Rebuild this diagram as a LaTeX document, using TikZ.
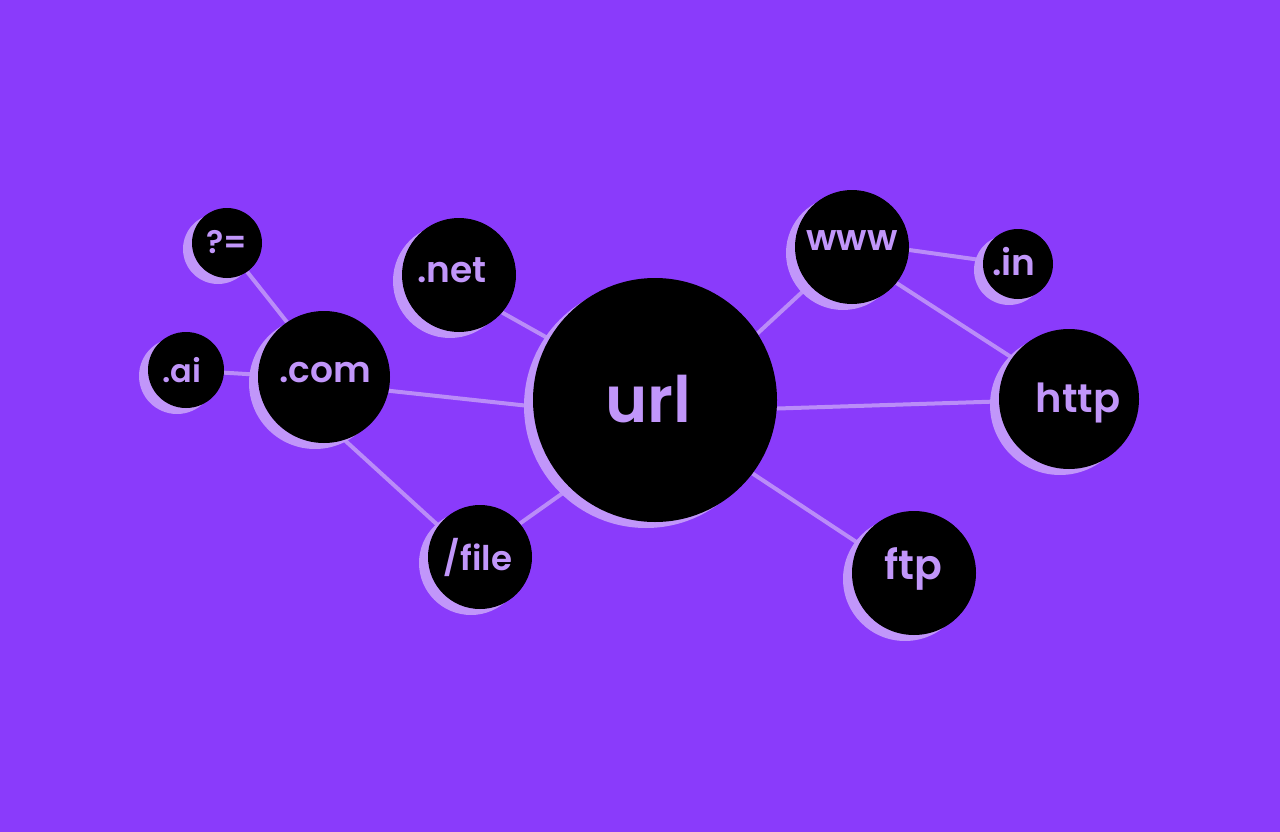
\documentclass[tikz,border=0pt]{standalone}
\usepackage{fontspec}
\setmainfont{Poppins}
\newfontfamily\popsemi{Poppins SemiBold}
\usetikzlibrary{shadows}
\definecolor{bgpurple}{HTML}{8A3BFB}
\definecolor{lilac}{HTML}{C196FA}
\definecolor{linklilac}{HTML}{BA8CF8}
\pgfdeclarelayer{back}
\pgfdeclarelayer{links}
\pgfsetlayers{back,links,main}
\tikzset{
  bubble/.style={circle, fill=black, inner sep=0pt, minimum size=#1,
    drop shadow={shadow xshift=-9pt, shadow yshift=-6pt, shadow scale=1, fill=lilac, opacity=1}},
  tag/.style={anchor=base, text=lilac, inner sep=0pt},
  link/.style={draw=linklilac, line width=4pt}
}
\begin{document}
\begin{tikzpicture}[x=1pt,y=-1pt]
\begin{pgfonlayer}{back}
\fill[bgpurple] (0,0) rectangle (1280,832);
\end{pgfonlayer}
\useasboundingbox (0,0) rectangle (1280,832);

% bubbles: name/x/y/diameter/text/size/dx/dy
\foreach \n/\x/\y/\d/\t/\s/\dx/\dy in {
  url/655/400/244/url/64/-7/22,
  com/324/377/132/.com/36/1/5,
  query/227/243/70/?=/32/0/10,
  ai/186/370/76/.ai/32/-4/12,
  net/459/275/114/.net/36/-7/7,
  file/480/557/104/{/file}/34/-2/13,
  www/852/247/114/www/36/0/3,
  dotin/1018/264/70/.in/36/-4/11,
  http/1069/399/140/http/40/9/13,
  ftp/914/573/124/ftp/41/-1/6}
{
  \node[bubble=\d pt] (\n) at (\x,\y) {};
  \node[tag, font=\fontsize{\s}{\s}\selectfont\popsemi] (\n-t) at ([xshift=\dx pt, yshift=-\dy pt]\n.center) {\t};
}

\begin{pgfonlayer}{links}
\draw[link] (query.-55) -- (com.124);
\draw[link] (ai.-4) -- (com.178);
\draw[link] (com.-12) -- (url.183);
\draw[link] (com.-72) -- (file.143);
\draw[link] (net.-41) -- (url.150);
\draw[link] (file.40) -- (url.226);
\draw[link] (url.33) -- (www.222);
\draw[link] (url.-4) -- (http.182);
\draw[link] (url.-37) -- (ftp.152);
\draw[link] (www.-3) -- (dotin.174);
\draw[link] (www.-39) -- (http.144);
\end{pgfonlayer}
\end{tikzpicture}
\end{document}
